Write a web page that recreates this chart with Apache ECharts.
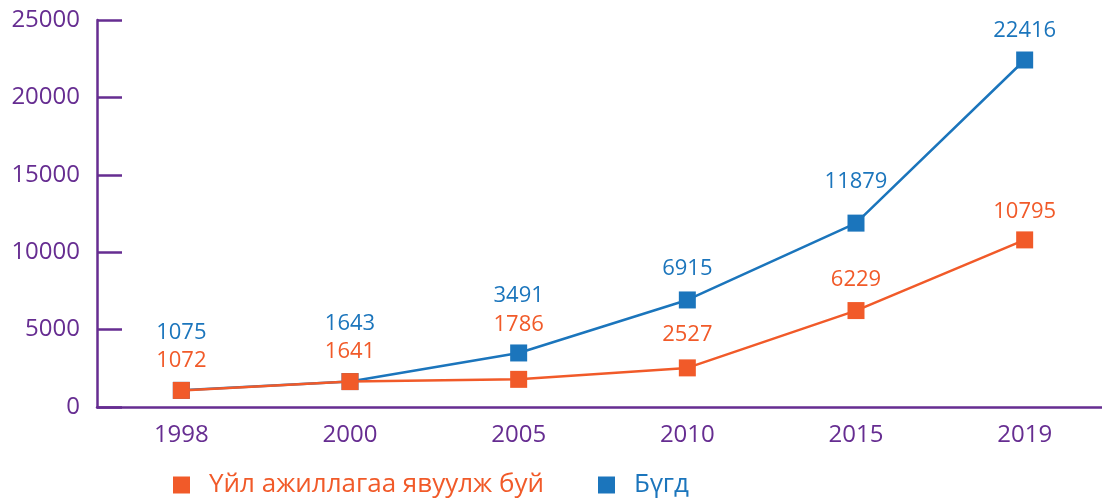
<!DOCTYPE html>
<html><head><meta charset="utf-8">
<script src="https://cdn.jsdelivr.net/npm/echarts@6/dist/echarts.min.js"></script>
<style>html,body{margin:0;padding:0;background:#fff;overflow:hidden}#c{width:1120px;height:499px}</style>
</head><body><div id="c"></div>
<script>
const categories = ['1998','2000','2005','2010','2015','2019'];
const activeValues = [1072, 1641, 1786, 2527, 6229, 10795];
const totalValues = [1075, 1643, 3491, 6915, 11879, 22416];
const yTicks = [0, 5000, 10000, 15000, 20000, 25000];
const seriesNames = ['Үйл ажиллагаа явуулж буй', 'Бүгд'];
// label distances (style only)
const activeLabelDist = [10, 10, 35, 14, 11, 9];
const totalLabelDist = [38, 38, 38, 12, 22, 10];

const purple = '#662d91';
const orange = '#f15a29';
const blue = '#1b75bc';
const font = 'Open Sans';

function withLabels(vals, dists) {
  return vals.map((v, i) => ({ value: v, label: { distance: dists[i] } }));
}

const chart = echarts.init(document.getElementById('c'), null, {renderer: 'canvas'});
chart.setOption({
  animation: false,
  grid: { left: 97, top: 20, width: 1012, height: 387 },
  legend: {
    data: [
      { name: seriesNames[0], textStyle: { color: orange } },
      { name: seriesNames[1], textStyle: { color: blue } }
    ],
    left: 173, top: 472, padding: 0,
    itemWidth: 17, itemHeight: 17, itemGap: 54,
    icon: 'rect',
    textStyle: { fontFamily: font, fontSize: 26, padding: [0, 0, 0, 14] }
  },
  xAxis: {
    type: 'category', data: categories, boundaryGap: true,
    axisLine: { lineStyle: { color: purple, width: 2.5 } },
    axisTick: { inside: true, length: 10, lineStyle: { color: purple, width: 2.5 } },
    axisLabel: { color: purple, fontFamily: font, fontSize: 24, margin: 16 }
  },
  yAxis: {
    type: 'value', min: 0, max: 25000, interval: 5000,
    axisLine: { show: true, lineStyle: { color: purple, width: 2.5 } },
    axisTick: { show: true, inside: true, length: 25, lineStyle: { color: purple, width: 2.5 } },
    splitLine: { show: false },
    axisLabel: { color: purple, fontFamily: font, fontSize: 24, margin: 17,
      formatter: v => yTicks.includes(v) ? String(v) : '' }
  },
  series: [
    {
      name: seriesNames[1], type: 'line', data: withLabels(totalValues, totalLabelDist),
      symbol: 'rect', symbolSize: 17, color: blue,
      lineStyle: { color: blue, width: 2.5 }, itemStyle: { color: blue },
      label: { show: true, position: 'top', color: blue, fontFamily: font, fontSize: 22 },
      z: 2
    },
    {
      name: seriesNames[0], type: 'line', data: withLabels(activeValues, activeLabelDist),
      symbol: 'rect', symbolSize: 17, color: orange,
      lineStyle: { color: orange, width: 2.5 }, itemStyle: { color: orange },
      label: { show: true, position: 'top', color: orange, fontFamily: font, fontSize: 22 },
      z: 3
    }
  ]
});
</script></body></html>
